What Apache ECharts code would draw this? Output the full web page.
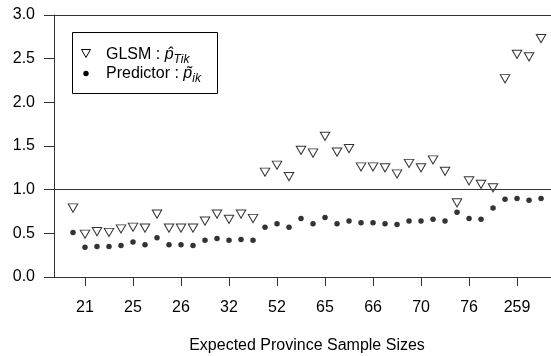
<!DOCTYPE html>
<html>
<head>
<meta charset="utf-8">
<script src="https://cdn.jsdelivr.net/npm/echarts@6/dist/echarts.min.js"></script>
<style>html,body{margin:0;padding:0;background:#fff;}#c{width:551px;height:356px;}</style>
</head>
<body>
<div id="c"></div>
<script>
// Tick positions (point index) and their labels (expected province sample sizes)
var tickPositions = [1, 5, 9, 13, 17, 21, 25, 29, 33, 37];
var tickLabels = ['21', '25', '26', '32', '52', '65', '66', '70', '76', '259'];
// GLSM estimates (open down-triangles)
var glsm = [0.79, 0.49, 0.52, 0.51, 0.55, 0.57, 0.56, 0.72, 0.56, 0.56,
            0.56, 0.64, 0.72, 0.66, 0.72, 0.67, 1.20, 1.28, 1.15, 1.45,
            1.42, 1.61, 1.43, 1.47, 1.26, 1.26, 1.25, 1.18, 1.30, 1.25,
            1.34, 1.21, 0.85, 1.10, 1.06, 1.02, 2.27, 2.55, 2.52, 2.73];
// Predictor values (filled dots)
var predictor = [0.51, 0.34, 0.35, 0.35, 0.36, 0.40, 0.37, 0.45, 0.37, 0.37,
                 0.36, 0.42, 0.44, 0.42, 0.43, 0.42, 0.57, 0.61, 0.57, 0.67,
                 0.61, 0.68, 0.61, 0.64, 0.62, 0.62, 0.61, 0.60, 0.64, 0.64,
                 0.66, 0.64, 0.74, 0.67, 0.66, 0.79, 0.89, 0.90, 0.88, 0.90];
var refLines = [1, 3];

var FONT = '"Liberation Sans", Arial, Helvetica, sans-serif';
function pts(arr){ return arr.map(function(v,i){ return [i, v]; }); }

var chart = echarts.init(document.getElementById('c'), null, {renderer:'canvas'});
chart.setOption({
  animation: false,
  backgroundColor: '#fff',
  textStyle: {fontFamily: FONT},
  grid: {left: 54, right: 0, top: 15, bottom: 79, containLabel: false, outerBoundsMode: 'none'},
  xAxis: {
    type: 'value', min: -1.583, max: 39.83,
    splitLine: {show: false},
    axisLine: {show: true, onZero: false, lineStyle: {color: '#333', width: 1}},
    axisTick: {show: true, length: 9, customValues: tickPositions, lineStyle: {color: '#333'}},
    axisLabel: {show: true, customValues: tickPositions, margin: 23, color: '#000', fontSize: 16, fontFamily: FONT,
      formatter: function(v){ var k = tickPositions.indexOf(Math.round(v)); return k >= 0 ? tickLabels[k] : ''; }}
  },
  yAxis: {
    type: 'value', min: 0, max: 3, interval: 0.5,
    splitLine: {show: false},
    axisLine: {show: true, onZero: false, lineStyle: {color: '#333', width: 1}},
    axisTick: {show: true, length: 10, lineStyle: {color: '#333'}},
    axisLabel: {margin: 19, color: '#000', fontSize: 16, fontFamily: FONT,
      formatter: function(v){ return v.toFixed(1); }}
  },
  series: [
    {
      name: 'GLSM', type: 'scatter', data: pts(glsm),
      symbol: 'path://M0,0 L10,0 L5,8.66 Z', symbolSize: [9.5, 8.2],
      itemStyle: {color: '#fff', borderColor: '#000', borderWidth: 1},
      markLine: {silent: true, symbol: ['none','none'], label: {show: false},
        lineStyle: {color: '#333', type: 'solid', width: 1},
        data: refLines.map(function(v){ return {yAxis: v}; })}
    },
    {
      name: 'Predictor', type: 'scatter', data: pts(predictor),
      symbol: 'circle', symbolSize: 5.5,
      itemStyle: {color: '#000'}
    }
  ],
  graphic: [
    {type: 'rect', shape: {x: 72.5, y: 32.5, width: 145, height: 61}, style: {fill: '#fff', stroke: '#000', lineWidth: 1}, z: 10},
    {type: 'polygon', shape: {points: [[81.5, 49.5], [90.5, 49.5], [86, 57.5]]}, style: {fill: '#fff', stroke: '#000', lineWidth: 1}, z: 11},
    {type: 'circle', shape: {cx: 86, cy: 73.5, r: 2.7}, style: {fill: '#000'}, z: 11},
    {type: 'text', x: 106, y: 55, z: 11, style: {
      text: '{n|GLSM : }{i|p\u0302}{s|Tik}', verticalAlign: 'middle', fill: '#000', font: '16px ' + FONT,
      rich: {n: {fontSize: 16, fontFamily: FONT}, i: {fontSize: 16, fontStyle: 'italic', fontFamily: FONT},
             s: {fontSize: 12, fontStyle: 'italic', fontFamily: FONT, padding: [9, 0, 0, 0]}}}},
    {type: 'text', x: 106, y: 74, z: 11, style: {
      text: '{n|Predictor : }{i|p\u0303}{s|ik}', verticalAlign: 'middle', fill: '#000', font: '16px ' + FONT,
      rich: {n: {fontSize: 16, fontFamily: FONT}, i: {fontSize: 16, fontStyle: 'italic', fontFamily: FONT},
             s: {fontSize: 12, fontStyle: 'italic', fontFamily: FONT, padding: [9, 0, 0, 0]}}}},
    {type: 'text', x: 307, y: 346, style: {text: 'Expected Province Sample Sizes', align: 'center', verticalAlign: 'middle', fill: '#000', font: '16px ' + FONT}}
  ]
});
</script>
</body>
</html>
